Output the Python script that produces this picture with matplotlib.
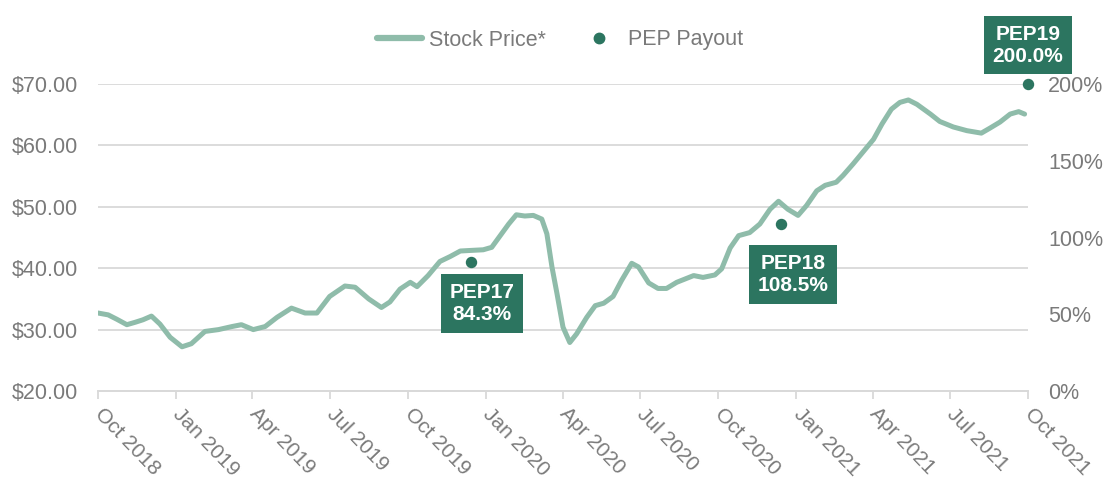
import matplotlib
matplotlib.use("Agg")
import matplotlib.pyplot as plt
import matplotlib.transforms as mtransforms
import pandas as pd
from matplotlib.lines import Line2D

plt.rcParams['font.family'] = ['Liberation Sans', 'DejaVu Sans']

# ---- data ----
price_dates = [
    "2018-10-01", "2018-10-13", "2018-10-23", "2018-11-04", "2018-11-14", "2018-11-23",
    "2018-12-03", "2018-12-13", "2018-12-25", "2019-01-08", "2019-01-19", "2019-02-04",
    "2019-02-20", "2019-03-08", "2019-03-19", "2019-04-02", "2019-04-16", "2019-04-30",
    "2019-05-17", "2019-06-02", "2019-06-16", "2019-07-01", "2019-07-19", "2019-07-31",
    "2019-08-16", "2019-08-31", "2019-09-10", "2019-09-22", "2019-10-04", "2019-10-12",
    "2019-10-25", "2019-11-08", "2019-11-20", "2019-12-02", "2019-12-15", "2019-12-29",
    "2020-01-08", "2020-01-18", "2020-01-28", "2020-02-06", "2020-02-16", "2020-02-26",
    "2020-03-07", "2020-03-13", "2020-03-19", "2020-03-25", "2020-04-01", "2020-04-09",
    "2020-04-17", "2020-04-29", "2020-05-09", "2020-05-19", "2020-05-30", "2020-06-09",
    "2020-06-21", "2020-06-29", "2020-07-11", "2020-07-22", "2020-08-01", "2020-08-13",
    "2020-09-02", "2020-09-13", "2020-09-27", "2020-10-05", "2020-10-15", "2020-10-25",
    "2020-11-07", "2020-11-19", "2020-12-01", "2020-12-11", "2020-12-22", "2021-01-03",
    "2021-01-13", "2021-01-25", "2021-02-04", "2021-02-17", "2021-02-25", "2021-03-09",
    "2021-03-21", "2021-04-02", "2021-04-12", "2021-04-23", "2021-05-03", "2021-05-13",
    "2021-05-23", "2021-06-08", "2021-06-19", "2021-07-05", "2021-07-21", "2021-08-07",
    "2021-08-17", "2021-08-29", "2021-09-10", "2021-09-20", "2021-09-27",
]
price_values = [
    32.7, 32.4, 31.7, 30.8, 31.2, 31.6,
    32.2, 30.9, 28.75, 27.2, 27.7, 29.7,
    30.0, 30.5, 30.8, 30.0, 30.5, 32.0,
    33.5, 32.7, 32.7, 35.4, 37.1, 36.9,
    35.0, 33.6, 34.5, 36.6, 37.7, 37.0,
    38.8, 41.1, 41.9, 42.8, 42.9, 43.0,
    43.4, 45.3, 47.2, 48.7, 48.5, 48.6,
    48.0, 45.6, 40.2, 35.8, 30.4, 27.9,
    29.3, 32.0, 33.9, 34.3, 35.4, 38.0,
    40.8, 40.2, 37.6, 36.7, 36.7, 37.7,
    38.8, 38.5, 38.9, 39.9, 43.3, 45.3,
    45.8, 47.2, 49.6, 50.9, 49.6, 48.6,
    50.2, 52.6, 53.5, 54.0, 55.1, 57.0,
    59.0, 61.0, 63.5, 65.9, 67.0, 67.4,
    66.7, 65.1, 63.9, 63.0, 62.4, 62.0,
    62.8, 63.8, 65.1, 65.5, 65.1,
]

payout_names = ["PEP17", "PEP18", "PEP19"]
payout_dates = ["2019-12-14", "2020-12-14", "2021-10-01"]
payout_values = [84.3, 108.5, 200.0]

x_tick_dates = pd.date_range("2018-10-01", "2021-10-01", freq="QS-OCT")
left_ticks = [20, 30, 40, 50, 60, 70]
right_ticks = [0, 50, 100, 150, 200]

# ---- style ----
LINE_C = "#8fbcaa"
DOT_C = "#2c7560"
TXT_C = "#7a7a7a"
GRID_C = "#d9d9d9"
FS = 15.5

W, H = 1105, 479
fig = plt.figure(figsize=(W / 100, H / 100), dpi=100)
ax = fig.add_axes([98 / W, 1 - 391 / H, 930 / W, 307 / H])
ax2 = ax.twinx()

pdates = pd.to_datetime(price_dates)
ax.plot(pdates, price_values, color=LINE_C, lw=3.6, solid_capstyle='round',
        solid_joinstyle='round', zorder=3)
ax.set_ylim(20, 70)
ax.set_xlim(pd.Timestamp("2018-10-01"), pd.Timestamp("2021-10-01"))
ax.set_yticks(left_ticks)
ax.set_yticklabels([f"${v:.2f}" for v in left_ticks])
ax.yaxis.grid(True, color=GRID_C, lw=1.3)
ax.set_axisbelow(True)

for a in (ax, ax2):
    for s in ("top", "left", "right"):
        a.spines[s].set_visible(False)
    a.spines["bottom"].set_color(GRID_C)
    a.spines["bottom"].set_linewidth(1.3)

ax.tick_params(axis='y', length=0, pad=14.4, labelsize=FS, labelcolor=TXT_C)
ax.tick_params(axis='x', length=6, width=1.3, color=GRID_C, pad=2,
               labelsize=15, labelcolor=TXT_C)

ax.set_xticks(x_tick_dates)
ax.set_xticklabels([d.strftime("%b %Y") for d in x_tick_dates],
                   rotation=-46, ha='left', va='top', rotation_mode='anchor')
shift = mtransforms.ScaledTranslation(5.0 / 72, -1.5 / 72, fig.dpi_scale_trans)
for lab in ax.get_xticklabels():
    lab.set_transform(lab.get_transform() + shift)

ax2.set_ylim(0, 200)
ax2.set_yticks(right_ticks)
ax2.set_yticklabels([f"{v}%" for v in right_ticks])
ax2.tick_params(axis='y', length=0, pad=14.4, labelsize=FS, labelcolor=TXT_C)

pay_d = pd.to_datetime(payout_dates)
ax2.scatter(pay_d, payout_values, s=52, color=DOT_C, zorder=5, clip_on=False)

offsets = [(8.3, -30), (8.6, -36), (0, 28)]
for name, d, v, off in zip(payout_names, pay_d, payout_values, offsets):
    ax2.annotate(f"{name}\n{v:.1f}%", xy=(d, v), xytext=off,
                 textcoords='offset points', ha='center', va='center',
                 color='white', fontsize=15, fontweight='bold',
                 bbox=dict(boxstyle='square,pad=0.42', fc=DOT_C, ec='none'),
                 zorder=6, annotation_clip=False)

handles = [
    Line2D([], [], color=LINE_C, lw=4.5, solid_capstyle='round'),
    Line2D([], [], color=DOT_C, marker='o', ls='none', markersize=7.5),
]
fig.legend(handles, ["Stock Price*", "PEP Payout"], loc='center',
           bbox_to_anchor=(560 / W, 1 - 40 / H), ncol=2, frameon=False,
           fontsize=FS, labelcolor=TXT_C, handlelength=2.1, handletextpad=0.3,
           columnspacing=1.4)

fig.savefig("out.png", dpi=100)
